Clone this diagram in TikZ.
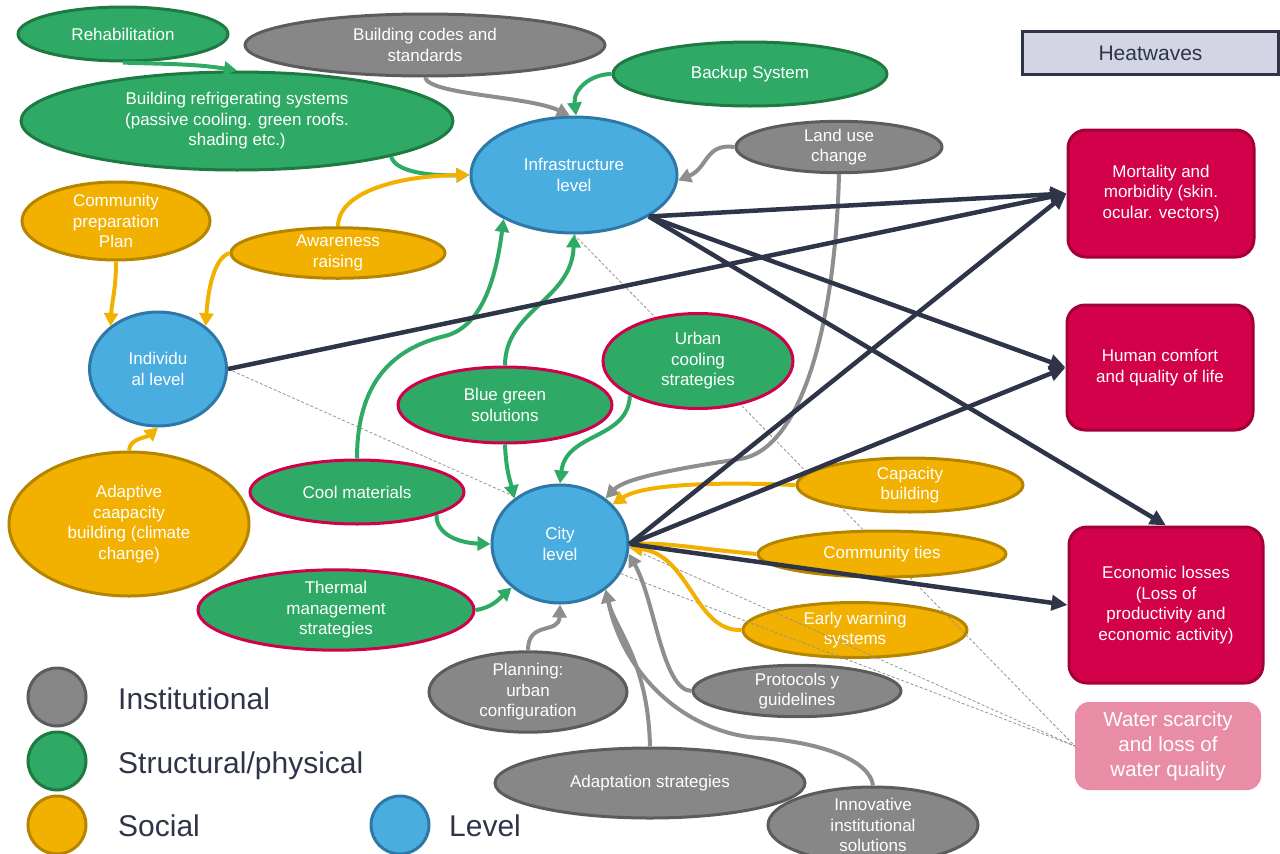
\documentclass[tikz,border=0pt]{standalone}
\usepackage{fontspec}
\setmainfont{Liberation Sans}
\usetikzlibrary{shapes.geometric,arrows.meta}
\definecolor{gfill}{HTML}{2FAA66}
\definecolor{gbord}{HTML}{1E7A42}
\definecolor{crim}{HTML}{D0004B}
\definecolor{grfill}{HTML}{878787}
\definecolor{grbord}{HTML}{5C5C5C}
\definecolor{yfill}{HTML}{F2B000}
\definecolor{ybord}{HTML}{B58500}
\definecolor{bfill}{HTML}{4AADE0}
\definecolor{bbord}{HTML}{2E78A8}
\definecolor{rfill}{HTML}{D3004A}
\definecolor{rbord}{HTML}{A3003A}
\definecolor{pinkf}{HTML}{E98DA6}
\definecolor{navy}{HTML}{2E3548}
\definecolor{hwfill}{HTML}{D4D5E4}
\definecolor{garrow}{HTML}{2EAA64}
\definecolor{grarrow}{HTML}{8E8E8E}
\definecolor{yarrow}{HTML}{F2B000}
\pgfdeclarelayer{bottom}
\pgfdeclarelayer{dashes}
\pgfsetlayers{bottom,dashes,main}
\begin{document}
\begin{tikzpicture}[x=1pt,y=-1pt,
  lbl/.style={font=\fontsize{17}{20.5}\selectfont, text=white, align=center, inner sep=0pt},
  sz/.style 2 args={minimum width=#1pt, minimum height=#2pt},
  ell/.style={lbl, ellipse, line width=3pt},
  gnode/.style={ell, fill=gfill, draw=gbord},
  gcnode/.style={ell, fill=gfill, draw=crim},
  inode/.style={ell, fill=grfill, draw=grbord},
  snode/.style={ell, fill=yfill, draw=ybord},
  lnode/.style={ell, fill=bfill, draw=bbord},
  impact/.style={lbl, rectangle, rounded corners=18pt, fill=rfill, draw=rbord, line width=3pt},
  carrow/.style={line width=4pt, -{Triangle[length=13pt,width=14pt]}},
  garr/.style={carrow, draw=garrow},
  grarr/.style={carrow, draw=grarrow},
  yarr/.style={carrow, draw=yarrow},
  narr/.style={line width=4.5pt, draw=navy, -{Triangle[length=16pt,width=15pt]}},
  dsh/.style={draw=gray!85, line width=0.8pt, dash pattern=on 3pt off 2pt},
  legc/.style={circle, minimum size=58pt, inner sep=0pt, line width=3pt},
  legt/.style={anchor=base west, inner sep=0pt, text=navy, font=\fontsize{30}{36}\selectfont}
]
\useasboundingbox (0,0) rectangle (1280,854);

\begin{pgfonlayer}{bottom}
\node[snode, sz={224}{55}] (ews) at (855,630) {Early warning\\systems};
\end{pgfonlayer}

% nodes
\node[gnode, sz={210}{54}] (reha) at (123,34) {Rehabilitation};
\node[inode, sz={360}{62}] (bcodes) at (425,45) {Building codes and\\standards};
\node[gnode, sz={432}{98}] (bref) at (237,121) {Building refrigerating systems\\(passive cooling. green roofs.\\shading etc.)};
\node[gnode, sz={274}{64}] (backup) at (750,74) {Backup System};
\node[inode, sz={206}{50}] (landuse) at (839,147) {Land use\\change};
\node[lnode, sz={206}{116}] (infra) at (574,175) {Infrastructure\\level};
\node[snode, sz={188}{78}] (cprep) at (116,221) {Community\\preparation\\Plan};
\node[snode, sz={214}{46}] (aware) at (338,253) {Awareness\\raising};
\node[lnode, sz={137}{114}] (indiv) at (158,369) {Individu\\al level};
\node[snode, sz={240}{144}] (adapt) at (129,524) {Adaptive\\caapacity\\building (climate\\change)};
\node[gcnode, sz={214}{76}] (bgreen) at (505,405) {Blue green\\solutions};
\node[gcnode, sz={190}{95}] (ucool) at (698,361) {Urban\\cooling\\strategies};
\node[gcnode, sz={214}{64}] (coolm) at (357,492) {Cool materials};
\node[lnode, sz={136}{118}] (city) at (560,544) {City\\level};
\node[gcnode, sz={276}{64}] (thermal) at (336,610) {Thermal\\management\\strategies};
\node[snode, sz={226}{54}] (capb) at (910,485) {Capacity\\building};
\node[snode, sz={248}{46}] (ctie) at (882,554) {Community ties};
\node[inode, sz={198}{80}] (plan) at (528,692) {Planning:\\urban\\configuration};
\node[inode, sz={208}{50}] (proto) at (797,691) {Protocols y\\guidelines};
\node[inode, sz={310}{70}] (adstr) at (650,783) {Adaptation strategies};
\node[inode, sz={210}{76}, inner ysep=-3pt] (innov) at (873,825) {Innovative\\institutional\\solutions};

\node[lbl, rectangle, fill=hwfill, draw=navy, line width=3pt, text=navy, font=\fontsize{21}{25}\selectfont, sz={256}{43}] (heat) at (1150.5,53) {Heatwaves};
\node[impact, sz={186}{127}] (mort) at (1161,193.5) {Mortality and\\morbidity (skin.\\ocular. vectors)};
\node[impact, sz={186}{125}] (hc) at (1160,367.5) {Human comfort\\and quality of life};
\node[impact, sz={194}{156}] (econ) at (1166,605) {Economic losses\\(Loss of\\productivity and\\economic activity)};
\node[lbl, rectangle, rounded corners=14pt, fill=pinkf, font=\fontsize{20.5}{25}\selectfont, sz={186}{88}] (water) at (1168,746) {Water scarcity\\and loss of\\water quality};

% legend
\node[legc, fill=grfill, draw=grbord] (lg1) at (57,697) {};
\node[legc, fill=gfill, draw=gbord] (lg2) at (57,761) {};
\node[legc, fill=yfill, draw=ybord] (lg3) at (57,825) {};
\node[legc, fill=bfill, draw=bbord] (lg4) at (400,825) {};
\node[legt] (lt1) at (118,709) {Institutional};
\node[legt] (lt2) at (118,773) {Structural/physical};
\node[legt] (lt3) at (118,836) {Social};
\node[legt] (lt4) at (449,836) {Level};

% dashed links
\begin{pgfonlayer}{dashes}
\draw[dsh] (infra.south) -- (water.west);
\draw[dsh] (indiv.east) -- (water.west);
\draw[dsh] (city.-26) -- (water.west);
\end{pgfonlayer}

% green
\draw[garr] (reha.south) .. controls (150,64) and (190,63) .. (bref.north);
\draw[garr] (bref.-13) .. controls (395,172) and (430,176) .. (infra.west);
\draw[garr] (backup.west) .. controls (590,74) and (573,90) .. (infra.88);
\draw[garr] (coolm.north) .. controls (357,380) and (395,348) .. (445,336) .. controls (485,326) and (497,270) .. (infra.212);
\draw[garr] (bgreen.north) .. controls (505,310) and (572,300) .. (infra.south);
\draw[garr] (bgreen.south) .. controls (506,470) and (510,480) .. (city.135);
\draw[garr] (ucool.207) .. controls (628,440) and (566,432) .. (city.north);
\draw[garr] (coolm.-16) .. controls (436,535) and (460,543) .. (city.west);
\draw[garr] (thermal.east) .. controls (492,608) and (500,598) .. (city.222);

% gray
\draw[grarr] (bcodes.south) .. controls (430,95) and (528,96) .. (infra.94);
\draw[grarr] (landuse.west) .. controls (705,143) and (708,168) .. (infra.-3);
\draw[grarr] (landuse.south) .. controls (835,330) and (800,450) .. (740,459) .. controls (680,468) and (625,478) .. (city.45);
\draw[grarr] (plan.north) .. controls (528,620) and (559,635) .. (city.south);
\draw[grarr] (proto.west) .. controls (662,690) and (655,600) .. (city.-8);
\draw[grarr] (adstr.north) .. controls (648,660) and (615,630) .. (city.-45);
\draw[grarr] (innov.north) .. controls (870,760) and (820,742) .. (760,738) .. controls (690,734) and (625,680) .. (city.-45);

% yellow
\draw[yarr] (cprep.south) .. controls (116,290) and (112,300) .. (indiv.138);
\draw[yarr] (aware.west) .. controls (214,258) and (208,290) .. (indiv.42);
\draw[yarr] (aware.north) .. controls (338,195) and (390,176) .. (infra.west);
\draw[yarr] (adapt.north) .. controls (130,438) and (146,438) .. (indiv.south);
\draw[yarr] (capb.west) .. controls (700,481) and (640,486) .. (city.37);
\draw[yarr] (ctie.west) .. controls (700,549) and (670,543) .. (city.east);
\draw[yarr] (ews.west) .. controls (695,632) and (690,555) .. (city.-3);

% navy impacts
\draw[narr] (infra.-29) -- (mort.west);
\draw[narr] (infra.-29) -- (hc.west);
\draw[narr] (infra.-29) -- (econ.north);
\draw[narr] (indiv.east) -- (mort.west);
\draw[narr] (city.east) -- (mort.west);
\draw[narr] (city.east) -- (hc.west);
\draw[narr] (city.east) -- (econ.west);
\end{tikzpicture}
\end{document}
